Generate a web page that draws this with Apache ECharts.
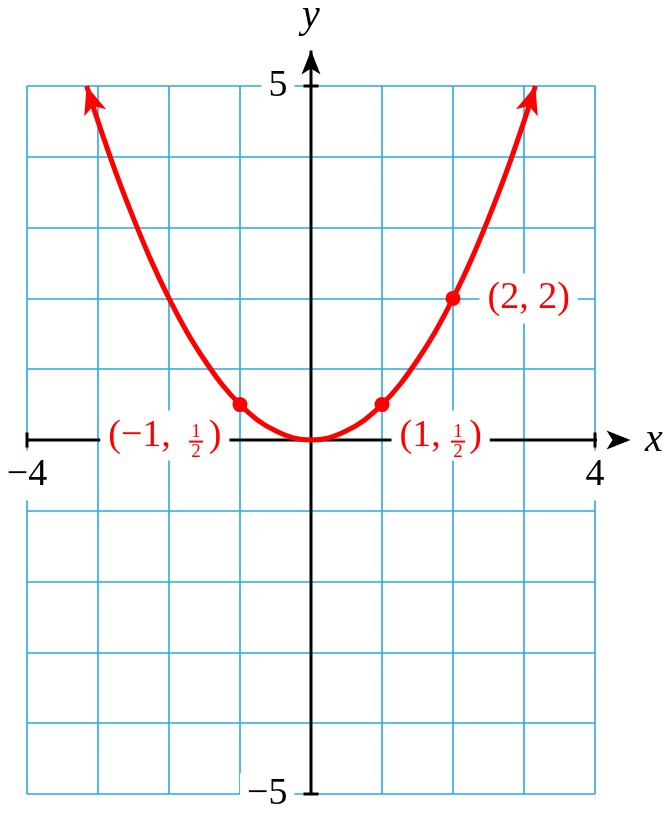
<!DOCTYPE html>
<html><head><meta charset="utf-8">
<script src="https://cdn.jsdelivr.net/npm/echarts@6/dist/echarts.min.js"></script>
<style>html,body{margin:0;padding:0;background:#fff}#c{width:671px;height:813px}</style>
</head><body><div id="c"></div>
<script>
// ---- data ----
const xRange = [-4, 4];
const yRange = [-5, 5];
const xTickLabels = [-4, 4];
const yTickLabels = [-5, 5];
const xAxisLine = [-4, 4.5];
const yAxisLine = [-5, 5.5];
const curveX = [-3.16, -3, -2.75, -2.5, -2.25, -2, -1.75, -1.5, -1.25, -1, -0.75, -0.5, -0.25, 0, 0.25, 0.5, 0.75, 1, 1.25, 1.5, 1.75, 2, 2.25, 2.5, 2.75, 3, 3.16];
const curveY = [5, 4.5, 3.78, 3.13, 2.53, 2, 1.53, 1.13, 0.78, 0.5, 0.28, 0.13, 0.03, 0, 0.03, 0.13, 0.28, 0.5, 0.78, 1.13, 1.53, 2, 2.53, 3.13, 3.78, 4.5, 5];
const pointX = [-1, 1, 2];
const pointY = [0.5, 0.5, 2];
const pointLabels = ['(\u22121,\u00a0\u00a0\u00a0\u00a0)', '(1,\u00a0\u00a0\u00a0)', '(2,\u00a02)'];
const pointFracNum = ['1', '1', null];
const pointFracDen = ['2', '2', null];

// ---- styles ----
const RED = '#ff0000', BLUE = '#29a9e1', BLACK = '#000';
const FONT = "'Liberation Serif', 'DejaVu Serif', serif";
const ARROW = 'path://M0,0 L10,26 L0,19.5 L-10,26 Z';
const CURVE_ARROW = [23, 28], AXIS_ARROW = [19, 24];
const labelPlacement = [
  {position: 'left', distance: 3, offset: [0, 31]},
  {position: 'right', distance: 2, offset: [0, 31]},
  {position: 'right', distance: 19, offset: [0, 0]}
];
const fracOffset = [[-44, 37], [76, 37]];
const fmt = v => v < 0 ? '\u2212' + Math.abs(v) : String(v);
const tickLabelStyle = {fontFamily: FONT, fontSize: 38, color: BLACK, backgroundColor: '#fff'};

const chart = echarts.init(document.getElementById('c'));

const xAxisPts = xAxisLine.map(x => [x, 0]);
const yAxisPts = yAxisLine.map(y => [0, y]);
const curvePts = curveX.map((x, i) => [x, curveY[i]]);

const fracData = [];
pointX.forEach((x, i) => {
  if (pointFracNum[i] == null) return;
  fracData.push({
    value: [x, pointY[i]], symbolOffset: fracOffset[fracData.length],
    label: {formatter: '{n|' + pointFracNum[i] + '}\n{d|' + pointFracDen[i] + '}'}
  });
});

const option = {
  animation: false,
  backgroundColor: '#fff',
  grid: {left: 27, right: 76, top: 86, bottom: 19, containLabel: false, outerBoundsMode: 'none'},
  xAxis: {
    type: 'value', min: xRange[0], max: xRange[1], interval: 1,
    axisLine: {show: true, onZero: true, lineStyle: {color: 'rgba(0,0,0,0)'}},
    axisTick: {show: false}, axisLabel: {show: false},
    splitLine: {show: true, lineStyle: {color: BLUE, width: 1.6}},
    name: 'x', nameLocation: 'end', nameGap: 50,
    nameTextStyle: {fontFamily: FONT, fontStyle: 'italic', fontSize: 40, color: BLACK}
  },
  yAxis: {
    type: 'value', min: yRange[0], max: yRange[1], interval: 1,
    axisLine: {show: true, onZero: true, lineStyle: {color: 'rgba(0,0,0,0)'}},
    axisTick: {show: false}, axisLabel: {show: false},
    splitLine: {show: true, lineStyle: {color: BLUE, width: 1.6}},
    name: 'y', nameLocation: 'end', nameGap: 50,
    nameTextStyle: {fontFamily: FONT, fontStyle: 'italic', fontSize: 40, color: BLACK}
  },
  series: [
    {id: 'xaxis', type: 'line', z: 3, clip: false, silent: true, symbol: 'none', showSymbol: true,
      lineStyle: {color: BLACK, width: 3}, itemStyle: {color: BLACK, borderWidth: 0, opacity: 1}, data: xAxisPts},
    {id: 'yaxis', type: 'line', z: 3, clip: false, silent: true, symbol: 'none', showSymbol: true,
      lineStyle: {color: BLACK, width: 3}, itemStyle: {color: BLACK, borderWidth: 0, opacity: 1}, data: yAxisPts},
    {id: 'xticks', type: 'scatter', z: 3, clip: false, silent: true, symbol: 'rect', symbolSize: [3, 15],
      itemStyle: {color: BLACK, opacity: 1}, data: xTickLabels.map(x => [x, 0]),
      label: Object.assign({show: true, position: 'bottom', distance: 3, padding: [6, 5],
        formatter: p => fmt(p.value[0])}, tickLabelStyle)},
    {id: 'yticks', type: 'scatter', z: 3, clip: false, silent: true, symbol: 'rect', symbolSize: [15, 3],
      itemStyle: {color: BLACK, opacity: 1}, data: yTickLabels.map(y => [0, y]),
      label: Object.assign({show: true, position: 'left', distance: 9, padding: [2, 7],
        formatter: p => fmt(p.value[1])}, tickLabelStyle)},
    {id: 'curve', type: 'line', z: 4, clip: false, silent: true, smooth: 0.3, symbol: 'none', showSymbol: true,
      lineStyle: {color: RED, width: 5}, itemStyle: {color: RED, borderWidth: 0, opacity: 1}, data: curvePts},
    {id: 'points', type: 'scatter', z: 6, clip: false, silent: true, symbol: 'circle', symbolSize: 15,
      itemStyle: {color: RED, opacity: 1},
      data: pointX.map((x, i) => ({
        value: [x, pointY[i]],
        label: Object.assign({show: true, formatter: pointLabels[i], fontFamily: FONT, fontSize: 38,
          color: RED, backgroundColor: '#fff', padding: [6, 8]}, labelPlacement[i])
      }))},
    {id: 'fractions', type: 'scatter', z: 7, clip: false, silent: true, symbol: 'rect', symbolSize: [14, 2],
      itemStyle: {color: RED, opacity: 1}, data: fracData,
      label: {show: true, position: 'inside', color: RED, align: 'center', verticalAlign: 'middle',
        rich: {
          n: {fontFamily: FONT, fontSize: 19, color: RED, lineHeight: 20, align: 'center'},
          d: {fontFamily: FONT, fontSize: 19, color: RED, lineHeight: 20, align: 'center'}
        }}}
  ]
};
chart.setOption(option);

function arrowStyle(from, to, size) {
  const p0 = chart.convertToPixel({gridIndex: 0}, from);
  const p1 = chart.convertToPixel({gridIndex: 0}, to);
  const dx = p1[0] - p0[0], dy = p1[1] - p0[1];
  const len = Math.hypot(dx, dy), ux = dx / len, uy = dy / len;
  return {
    symbol: ARROW, symbolSize: size,
    symbolRotate: -Math.atan2(ux, -uy) * 180 / Math.PI,
    symbolOffset: [-ux * size[1] / 2, -uy * size[1] / 2]
  };
}
function withEndArrows(pts, size, both) {
  const n = pts.length;
  return pts.map((p, i) => {
    if (i === n - 1) return Object.assign({value: p}, arrowStyle(pts[n - 2], p, size));
    if (both && i === 0) return Object.assign({value: p}, arrowStyle(pts[1], p, size));
    return {value: p};
  });
}
chart.setOption({series: [
  {id: 'xaxis', data: withEndArrows(xAxisPts, AXIS_ARROW, false)},
  {id: 'yaxis', data: withEndArrows(yAxisPts, AXIS_ARROW, false)},
  {id: 'curve', data: withEndArrows(curvePts, CURVE_ARROW, true)}
]});
</script></body></html>
